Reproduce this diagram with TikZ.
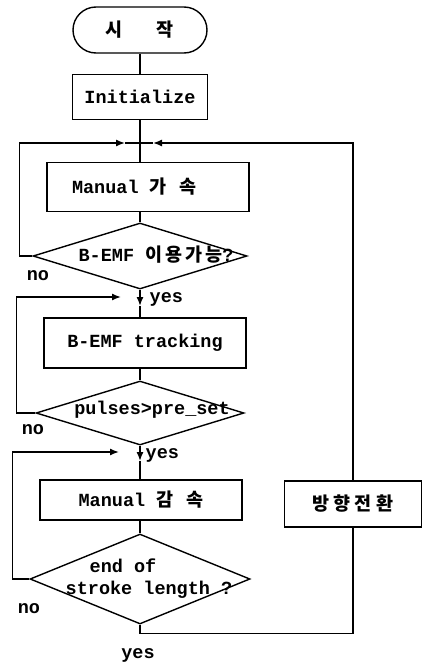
\documentclass[tikz,border=0pt]{standalone}
\usepackage{fontspec}
\setmainfont{Liberation Mono}
\newfontfamily\kr{Noto Sans CJK KR}
\usetikzlibrary{shapes.geometric,arrows.meta}
\begin{document}
\begin{tikzpicture}[x=1pt,y=-1pt, line width=1.4pt,
  txt/.style={font=\fontsize{18.5}{22}\selectfont\bfseries, inner sep=0pt},
  box/.style={draw, rectangle, txt},
  term/.style={draw, rectangle, rounded corners=23pt, txt, minimum width=134pt, minimum height=46pt},
  dia/.style={draw, diamond, inner sep=0pt},
  arr/.style={-{Latex[length=9pt,width=7pt]}},
]
\useasboundingbox (0,0) rectangle (423,664);

% nodes
\node[term] (start) at (140,30) {{\kr 시\hspace{34pt}작}};
\node[box, minimum width=135pt, minimum height=45pt] (init) at (140,97) {Initialize};
\node[box, minimum width=202pt, minimum height=49pt] (box1) at (148,187) {\makebox[202pt][l]{\hspace*{25pt}Manual {\kr 가\hspace{13pt}속}}};
\node[dia, minimum width=214pt, minimum height=66pt] (d1) at (140,256) {};
\node[txt] (t1) at (156,255) {B-EMF {\kr 이\kern3pt 용\kern3pt 가\kern3pt 능}?};
\node[box, minimum width=202pt, minimum height=50pt] (box2) at (145,343) {B-EMF tracking};
\node[dia, minimum width=208pt, minimum height=64pt] (d2) at (140,413) {};
\node[txt] (t2) at (152,410) {pulses>pre\_set};
\node[box, minimum width=202pt, minimum height=40pt] (box3) at (141,500) {Manual {\kr 감\hspace{13pt}속}};
\node[dia, minimum width=220pt, minimum height=90pt] (d3) at (140,579) {};
\node[txt, align=left] (t3) at (149,579) {\hspace*{24pt}end of\\stroke length ?};
\node[box, minimum width=137pt, minimum height=46pt] (rev) at (353,504) {{\kr 방\kern4pt 향\kern4pt 전\kern4pt 환}};

% labels
\node[txt] (no1) at (38,276) {no};
\node[txt] (no2) at (33,430) {no};
\node[txt] (no3) at (29,609) {no};
\node[txt, anchor=west] (y1) at (149,299) {yes};
\node[txt, anchor=west] (y2) at (145,455) {yes};
\node[txt] (y3) at (138,655) {yes};

% coordinates
\coordinate (jl) at (125,143);
\coordinate (jr) at (153,143);
\coordinate (a1) at (140,306);
\coordinate (l2) at (121,297);
\coordinate (a2) at (140,461);
\coordinate (l3) at (119,452);

% connectors
\draw (start) -- (init);
\draw (init.south) -- (init.south |- box1.north);
\draw (box1.south -| d1.north) -- (d1.north);
\draw[arr] (d1.west) -- ++(-13,0) |- (jl);
\draw (jl) -- (jr);
\draw[arr] (rev.north) |- (jr);

\draw[arr] (d1.south) -- (a1);
\draw (a1) -- (box2.north -| a1);
\draw[arr] (d2.west) -- ++(-19,0) |- (l2);
\draw (box2.south -| d2.north) -- (d2.north);

\draw[arr] (d2.south) -- (a2);
\draw (a2) -- (box3.north -| a2);
\draw[arr] (d3.west) -- ++(-17,0) |- (l3);
\draw (box3.south -| d3.north) -- (d3.north);

\draw (d3.south) -- ++(0,9) -| (rev.south);
\end{tikzpicture}
\end{document}
